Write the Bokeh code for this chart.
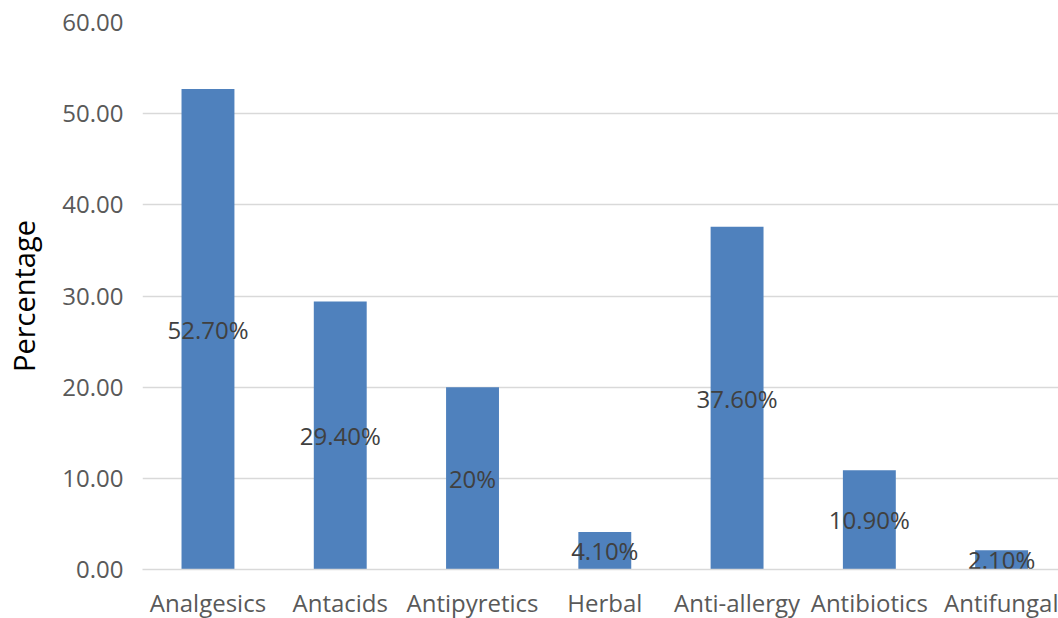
from bokeh.plotting import figure
from bokeh.models import FixedTicker, Range1d, ColumnDataSource, NumeralTickFormatter
from bokeh.core.properties import value
from bokeh.embed import file_html
from bokeh.resources import INLINE

categories = ["Analgesics", "Antacids", "Antipyretics", "Herbal", "Anti-allergy", "Antibiotics", "Antifungal"]
values = [52.7, 29.4, 20.0, 4.1, 37.6, 10.9, 2.1]
labels = ["52.70%", "29.40%", "20%", "4.10%", "37.60%", "10.90%", "2.10%"]
y_ticks = [0, 10, 20, 30, 40, 50, 60]

xs = list(range(len(categories)))
src = ColumnDataSource(dict(x=xs, top=values, mid=[v / 2 for v in values], label=labels))

FONT = "Open Sans"

p = figure(frame_width=916, frame_height=547, output_backend="svg", toolbar_location=None,
           x_range=Range1d(-0.495, 6.43), y_range=Range1d(0, 60),
           min_border_left=142, min_border_right=0, min_border_top=22, min_border_bottom=40)

p.vbar(x="x", top="top", width=0.40, bottom=0, source=src, fill_color="#4F81BD", line_color=None)
p.text(x="x", y="mid", text="label", source=src, text_align="center", text_baseline="middle",
       text_font=value(FONT), text_font_size="24px", text_color="#404040")

p.outline_line_color = None
p.xgrid.grid_line_color = None
p.ygrid.grid_line_color = "#d9d9d9"
p.ygrid.grid_line_width = 1.3
p.ygrid.ticker = FixedTicker(ticks=y_ticks)

p.xaxis.ticker = FixedTicker(ticks=xs)
p.xaxis.major_label_overrides = {i: c for i, c in enumerate(categories)}
p.xaxis.major_tick_line_color = None
p.xaxis.major_tick_out = 0
p.xaxis.major_tick_in = 0
p.xaxis.minor_tick_line_color = None
p.xaxis.axis_line_color = "#d9d9d9"
p.xaxis.axis_line_width = 1.3
p.xaxis.major_label_text_font = FONT
p.xaxis.major_label_text_font_size = "24px"
p.xaxis.major_label_text_color = "#595959"
p.xaxis.major_label_standoff = 16

p.yaxis.ticker = FixedTicker(ticks=y_ticks)
p.yaxis.formatter = NumeralTickFormatter(format="0.00")
p.yaxis.major_tick_line_color = None
p.yaxis.major_tick_out = 0
p.yaxis.major_tick_in = 0
p.yaxis.minor_tick_line_color = None
p.yaxis.axis_line_color = None
p.yaxis.major_label_text_font = FONT
p.yaxis.major_label_text_font_size = "24px"
p.yaxis.major_label_text_color = "#595959"
p.yaxis.major_label_standoff = 19
p.yaxis.axis_label = "Percentage"
p.yaxis.axis_label_text_font = FONT
p.yaxis.axis_label_text_font_style = "normal"
p.yaxis.axis_label_text_font_size = "29px"
p.yaxis.axis_label_text_color = "#000000"
p.yaxis.axis_label_standoff = 16

open("out.html", "w").write(file_html(p, INLINE))
